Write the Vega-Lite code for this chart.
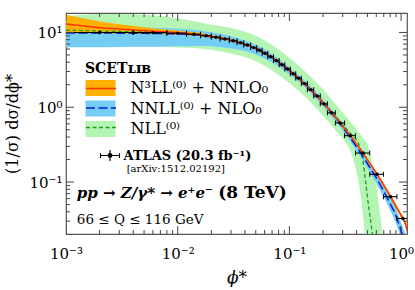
{
  "$schema": "https://vega.github.io/schema/vega-lite/v6.json",
  "width": 341,
  "height": 221,
  "autosize": {"type": "none"},
  "padding": {"left": 66, "top": 13, "right": 8, "bottom": 56},
  "background": "white",
  "config": {"view": {"stroke": "#555", "strokeWidth": 1.2}, "font": "DejaVu Serif"},
  "datasets": {
    "theory": [
      {"k":"a","x":0.001,"lo":10.2,"c":12.97,"hi":17.2},
      {"k":"a","x":0.0015,"lo":9.84,"c":12.11,"hi":15.2},
      {"k":"a","x":0.002,"lo":9.73,"c":11.56,"hi":14.06},
      {"k":"a","x":0.003,"lo":9.68,"c":11.12,"hi":12.91},
      {"k":"a","x":0.005,"lo":9.55,"c":10.59,"hi":11.75},
      {"k":"a","x":0.007,"lo":9.48,"c":10.28,"hi":11.14},
      {"k":"a","x":0.01,"lo":9.33,"c":9.95,"hi":10.62},
      {"k":"a","x":0.015,"lo":8.99,"c":9.46,"hi":9.95},
      {"k":"a","x":0.02,"lo":8.51,"c":8.87,"hi":9.25},
      {"k":"a","x":0.03,"lo":7.60,"c":7.87,"hi":8.15},
      {"k":"a","x":0.04,"lo":6.75,"c":6.95,"hi":7.16},
      {"k":"a","x":0.05,"lo":5.94,"c":6.11,"hi":6.28},
      {"k":"a","x":0.07,"lo":4.48,"c":4.60,"hi":4.73},
      {"k":"a","x":0.1,"lo":3.03,"c":3.11,"hi":3.20},
      {"k":"a","x":0.13,"lo":2.15,"c":2.21,"hi":2.27},
      {"k":"a","x":0.15,"lo":1.75,"c":1.80,"hi":1.85},
      {"k":"a","x":0.2,"lo":1.117,"c":1.148,"hi":1.180},
      {"k":"a","x":0.25,"lo":0.755,"c":0.776,"hi":0.798},
      {"k":"a","x":0.3,"lo":0.544,"c":0.560,"hi":0.577},
      {"k":"a","x":0.35,"lo":0.407,"c":0.420,"hi":0.434},
      {"k":"a","x":0.4,"lo":0.310,"c":0.321,"hi":0.332},
      {"k":"a","x":0.45,"lo":0.243,"c":0.252,"hi":0.261},
      {"k":"a","x":0.5,"lo":0.191,"c":0.199,"hi":0.207},
      {"k":"a","x":0.55,"lo":0.154,"c":0.161,"hi":0.168},
      {"k":"a","x":0.6,"lo":0.126,"c":0.132,"hi":0.138},
      {"k":"a","x":0.7,"lo":0.0861,"c":0.0906,"hi":0.0953},
      {"k":"a","x":0.8,"lo":0.0614,"c":0.0650,"hi":0.0689},
      {"k":"a","x":0.9,"lo":0.0445,"c":0.0475,"hi":0.0507},
      {"k":"a","x":1.0,"lo":0.0334,"c":0.0358,"hi":0.0384},
      {"k":"a","x":1.1,"lo":0.0248,"c":0.0269,"hi":0.0292},
      {"k":"a","x":1.13,"lo":0.0204,"c":0.0224,"hi":0.0246},

      {"k":"b","x":0.001,"lo":6.35,"c":9.84,"hi":12.97},
      {"k":"b","x":0.0015,"lo":6.35,"c":9.84,"hi":12.68},
      {"k":"b","x":0.002,"lo":6.35,"c":9.84,"hi":12.39},
      {"k":"b","x":0.003,"lo":6.40,"c":9.79,"hi":12.05},
      {"k":"b","x":0.005,"lo":6.43,"c":9.73,"hi":11.69},
      {"k":"b","x":0.007,"lo":6.46,"c":9.66,"hi":11.48},
      {"k":"b","x":0.01,"lo":6.53,"c":9.55,"hi":11.22},
      {"k":"b","x":0.015,"lo":6.61,"c":9.23,"hi":10.72},
      {"k":"b","x":0.02,"lo":6.52,"c":8.79,"hi":10.09},
      {"k":"b","x":0.03,"lo":6.08,"c":7.83,"hi":8.89},
      {"k":"b","x":0.04,"lo":5.64,"c":6.93,"hi":7.78},
      {"k":"b","x":0.05,"lo":5.08,"c":6.11,"hi":6.85},
      {"k":"b","x":0.07,"lo":3.96,"c":4.60,"hi":5.11},
      {"k":"b","x":0.1,"lo":2.74,"c":3.11,"hi":3.41},
      {"k":"b","x":0.13,"lo":1.995,"c":2.21,"hi":2.45},
      {"k":"b","x":0.15,"lo":1.622,"c":1.80,"hi":1.995},
      {"k":"b","x":0.2,"lo":1.03,"c":1.143,"hi":1.268},
      {"k":"b","x":0.25,"lo":0.692,"c":0.767,"hi":0.851},
      {"k":"b","x":0.3,"lo":0.490,"c":0.543,"hi":0.603},
      {"k":"b","x":0.35,"lo":0.351,"c":0.394,"hi":0.442},
      {"k":"b","x":0.4,"lo":0.263,"c":0.295,"hi":0.331},
      {"k":"b","x":0.45,"lo":0.1995,"c":0.226,"hi":0.257},
      {"k":"b","x":0.5,"lo":0.153,"c":0.176,"hi":0.202},
      {"k":"b","x":0.55,"lo":0.120,"c":0.140,"hi":0.162},
      {"k":"b","x":0.6,"lo":0.0966,"c":0.1135,"hi":0.133},
      {"k":"b","x":0.7,"lo":0.0624,"c":0.0750,"hi":0.0902},
      {"k":"b","x":0.8,"lo":0.0417,"c":0.0513,"hi":0.0631},
      {"k":"b","x":0.9,"lo":0.0282,"c":0.0355,"hi":0.0447},
      {"k":"b","x":1.0,"lo":0.0174,"c":0.0224,"hi":0.0288},
      {"k":"b","x":1.1,"lo":0.0112,"c":0.0148,"hi":0.0195},
      {"k":"b","x":1.13,"lo":0.0095,"c":0.0126,"hi":0.0166},

      {"k":"c","x":0.001,"lo":6.46,"c":10.7,"hi":16.6},
      {"k":"c","x":0.0015,"lo":6.46,"c":10.59,"hi":17.2},
      {"k":"c","x":0.002,"lo":6.46,"c":10.47,"hi":17.6},
      {"k":"c","x":0.003,"lo":6.46,"c":10.35,"hi":17.6},
      {"k":"c","x":0.005,"lo":6.46,"c":10.16,"hi":17.2},
      {"k":"c","x":0.007,"lo":6.46,"c":10.05,"hi":16.6},
      {"k":"c","x":0.01,"lo":6.31,"c":9.84,"hi":15.5},
      {"k":"c","x":0.015,"lo":6.17,"c":9.40,"hi":13.8},
      {"k":"c","x":0.02,"lo":5.89,"c":8.87,"hi":12.7},
      {"k":"c","x":0.03,"lo":5.25,"c":7.87,"hi":11.5},
      {"k":"c","x":0.04,"lo":4.68,"c":6.95,"hi":10.2},
      {"k":"c","x":0.05,"lo":4.12,"c":6.11,"hi":9.02},
      {"k":"c","x":0.07,"lo":3.11,"c":4.60,"hi":6.81},
      {"k":"c","x":0.1,"lo":2.10,"c":3.11,"hi":4.60},
      {"k":"c","x":0.13,"lo":1.50,"c":2.21,"hi":3.27},
      {"k":"c","x":0.15,"lo":1.22,"c":1.81,"hi":2.67},
      {"k":"c","x":0.2,"lo":0.776,"c":1.175,"hi":1.74},
      {"k":"c","x":0.25,"lo":0.525,"c":0.804,"hi":1.175},
      {"k":"c","x":0.3,"lo":0.380,"c":0.589,"hi":0.851},
      {"k":"c","x":0.35,"lo":0.263,"c":0.452,"hi":0.646},
      {"k":"c","x":0.38,"lo":0.182,"c":0.398,"hi":0.56},
      {"k":"c","x":0.4,"lo":0.135,"c":0.363,"hi":0.501},
      {"k":"c","x":0.42,"lo":0.0933,"c":0.316,"hi":0.46},
      {"k":"c","x":0.44,"lo":0.0575,"c":0.251,"hi":0.42},
      {"k":"c","x":0.46,"lo":0.0316,"c":0.174,"hi":0.385},
      {"k":"c","x":0.48,"lo":0.0158,"c":0.105,"hi":0.36},
      {"k":"c","x":0.5,"lo":0.0079,"c":0.063,"hi":0.32},
      {"k":"c","x":0.52,"lo":0.004,"c":0.0398,"hi":0.263},
      {"k":"c","x":0.55,"lo":0.002,"c":0.022,"hi":0.182},
      {"k":"c","x":0.58,"lo":0.001,"c":0.0112,"hi":0.120},
      {"k":"c","x":0.6,"lo":0.001,"c":0.005,"hi":0.0873},
      {"k":"c","x":0.65,"lo":0.001,"c":0.002,"hi":0.0372},
      {"k":"c","x":0.7,"lo":0.001,"c":0.001,"hi":0.0141},
      {"k":"c","x":0.75,"lo":0.001,"c":0.001,"hi":0.005}
    ],
    "atlas": [
      {"x":0.002,"lo":0.0005,"hi":0.004,"v":10.0},
      {"x":0.006,"lo":0.004,"hi":0.008,"v":9.95},
      {"x":0.010,"lo":0.008,"hi":0.012,"v":9.77},
      {"x":0.014,"lo":0.012,"hi":0.016,"v":9.44},
      {"x":0.018,"lo":0.016,"hi":0.020,"v":9.04},
      {"x":0.022,"lo":0.020,"hi":0.024,"v":8.65},
      {"x":0.0265,"lo":0.024,"hi":0.029,"v":8.20},
      {"x":0.0315,"lo":0.029,"hi":0.034,"v":7.74},
      {"x":0.0365,"lo":0.034,"hi":0.039,"v":7.28},
      {"x":0.042,"lo":0.039,"hi":0.045,"v":6.79},
      {"x":0.048,"lo":0.045,"hi":0.051,"v":6.27},
      {"x":0.054,"lo":0.051,"hi":0.057,"v":5.77},
      {"x":0.0605,"lo":0.057,"hi":0.064,"v":5.26},
      {"x":0.068,"lo":0.064,"hi":0.072,"v":4.73},
      {"x":0.0765,"lo":0.072,"hi":0.081,"v":4.21},
      {"x":0.086,"lo":0.081,"hi":0.091,"v":3.71},
      {"x":0.0965,"lo":0.091,"hi":0.102,"v":3.24},
      {"x":0.108,"lo":0.102,"hi":0.114,"v":2.81},
      {"x":0.121,"lo":0.114,"hi":0.128,"v":2.45},
      {"x":0.1365,"lo":0.128,"hi":0.145,"v":2.07},
      {"x":0.155,"lo":0.145,"hi":0.165,"v":1.72},
      {"x":0.177,"lo":0.165,"hi":0.189,"v":1.41},
      {"x":0.204,"lo":0.189,"hi":0.219,"v":1.11},
      {"x":0.2385,"lo":0.219,"hi":0.258,"v":0.843},
      {"x":0.285,"lo":0.258,"hi":0.312,"v":0.617},
      {"x":0.3515,"lo":0.312,"hi":0.391,"v":0.417},
      {"x":0.4575,"lo":0.391,"hi":0.524,"v":0.244},
      {"x":0.6095,"lo":0.524,"hi":0.695,"v":0.127},
      {"x":0.8065,"lo":0.695,"hi":0.918,"v":0.0637},
      {"x":1.0355,"lo":0.918,"hi":1.153,"v":0.0326}
    ],
    "xticks": [
      {"t":0.001,"kind":"major"},{"t":0.002,"kind":"minor"},{"t":0.003,"kind":"minor"},{"t":0.004,"kind":"minor"},{"t":0.005,"kind":"minor"},
      {"t":0.006,"kind":"minor"},{"t":0.007,"kind":"minor"},{"t":0.008,"kind":"minor"},{"t":0.009,"kind":"minor"},
      {"t":0.01,"kind":"major"},{"t":0.02,"kind":"minor"},{"t":0.03,"kind":"minor"},{"t":0.04,"kind":"minor"},{"t":0.05,"kind":"minor"},
      {"t":0.06,"kind":"minor"},{"t":0.07,"kind":"minor"},{"t":0.08,"kind":"minor"},{"t":0.09,"kind":"minor"},
      {"t":0.1,"kind":"major"},{"t":0.2,"kind":"minor"},{"t":0.3,"kind":"minor"},{"t":0.4,"kind":"minor"},{"t":0.5,"kind":"minor"},
      {"t":0.6,"kind":"minor"},{"t":0.7,"kind":"minor"},{"t":0.8,"kind":"minor"},{"t":0.9,"kind":"minor"},
      {"t":1,"kind":"major"}
    ],
    "yticks": [
      {"t":0.03,"kind":"minor"},{"t":0.04,"kind":"minor"},{"t":0.05,"kind":"minor"},{"t":0.06,"kind":"minor"},
      {"t":0.07,"kind":"minor"},{"t":0.08,"kind":"minor"},{"t":0.09,"kind":"minor"},
      {"t":0.1,"kind":"major"},{"t":0.2,"kind":"minor"},{"t":0.3,"kind":"minor"},{"t":0.4,"kind":"minor"},{"t":0.5,"kind":"minor"},
      {"t":0.6,"kind":"minor"},{"t":0.7,"kind":"minor"},{"t":0.8,"kind":"minor"},{"t":0.9,"kind":"minor"},
      {"t":1,"kind":"major"},{"t":2,"kind":"minor"},{"t":3,"kind":"minor"},{"t":4,"kind":"minor"},{"t":5,"kind":"minor"},
      {"t":6,"kind":"minor"},{"t":7,"kind":"minor"},{"t":8,"kind":"minor"},{"t":9,"kind":"minor"},
      {"t":10,"kind":"major"}
    ]
  },
  "resolve": {"axis": {"x": "independent", "y": "independent"}},
  "layer": [
    {
      "data": {"name": "theory"},
      "transform": [{"filter": "datum.k == 'c'"}],
      "mark": {"type": "area", "clip": true, "opacity": 1, "interpolate": "monotone"},
      "encoding": {
        "x": {"field": "x", "type": "quantitative",
          "scale": {"type": "log", "domain": [0.001, 1.13], "nice": false},
          "axis": {"orient": "bottom", "values": [0.001, 0.01, 0.1, 1], "ticks": false, "domain": false, "grid": false,
            "labelExpr": "datum.value < 0.005 ? '10⁻³' : datum.value < 0.05 ? '10⁻²' : datum.value < 0.5 ? '10⁻¹' : '10⁰'",
            "labelFont": "DejaVu Serif", "labelFontSize": 15, "labelColor": "black", "labelPadding": 12, "labelFlush": false, "labelOverlap": false,
            "title": "ϕ*", "titleFont": "DejaVu Serif", "titleFontStyle": "italic", "titleFontWeight": "normal", "titleFontSize": 17, "titleColor": "black", "titlePadding": 8}},
        "y": {"field": "lo", "type": "quantitative",
          "scale": {"type": "log", "domain": [0.0202, 18.2], "nice": false},
          "axis": {"orient": "left", "values": [0.1, 1, 10], "ticks": false, "domain": false, "grid": false,
            "labelExpr": "datum.value < 0.5 ? '10⁻¹' : datum.value < 5 ? '10⁰' : '10¹'",
            "labelFont": "DejaVu Serif", "labelFontSize": 15, "labelColor": "black", "labelPadding": 4, "labelFlush": false, "labelOverlap": false,
            "title": "(1/σ) dσ/dϕ*", "titleFont": "DejaVu Serif", "titleFontWeight": "normal", "titleFontSize": 16, "titleColor": "black", "titlePadding": 8}},
        "y2": {"field": "hi"},
        "fill": {"field": "k", "type": "nominal",
          "scale": {"range": ["#ffb000", "#73cdf5", "#b4f5b4"]},
          "legend": {"orient": "none", "legendX": 19, "legendY": 49, "title": "SCETʟɪʙ",
            "titleFont": "DejaVu Serif", "titleFontSize": 14, "titleFontWeight": "bold", "titleColor": "black", "titlePadding": 4,
            "symbolType": "M-2,-1.0667H2V1.0667H-2Z", "symbolSize": 225, "symbolStrokeWidth": 0, "symbolOffset": 7.5, "symbolOpacity": 1,
            "labelExpr": "datum.label == 'a' ? 'N³LL⁽⁰⁾ + NNLO₀' : datum.label == 'b' ? 'NNLL⁽⁰⁾ + NLO₀' : 'NLL⁽⁰⁾'",
            "labelFont": "DejaVu Serif", "labelFontSize": 16, "labelColor": "black", "labelOffset": 22, "rowPadding": 2.5, "labelLimit": 300}}
      }
    },
    {
      "data": {"name": "theory"},
      "transform": [{"filter": "datum.k == 'b'"}],
      "mark": {"type": "area", "clip": true, "opacity": 1, "interpolate": "monotone"},
      "encoding": {
        "x": {"field": "x", "type": "quantitative", "axis": null},
        "y": {"field": "lo", "type": "quantitative", "axis": null},
        "y2": {"field": "hi"},
        "fill": {"field": "k", "type": "nominal"}
      }
    },
    {
      "data": {"name": "theory"},
      "transform": [{"filter": "datum.k == 'a'"}],
      "mark": {"type": "area", "clip": true, "opacity": 1, "interpolate": "monotone"},
      "encoding": {
        "x": {"field": "x", "type": "quantitative", "axis": null},
        "y": {"field": "lo", "type": "quantitative", "axis": null},
        "y2": {"field": "hi"},
        "fill": {"field": "k", "type": "nominal"}
      }
    },
    {
      "data": {"name": "theory"},
      "transform": [{"filter": "datum.k == 'c'"}],
      "mark": {"type": "line", "clip": true, "strokeWidth": 1.3, "interpolate": "monotone"},
      "encoding": {
        "x": {"field": "x", "type": "quantitative", "axis": null},
        "y": {"field": "c", "type": "quantitative", "axis": null},
        "stroke": {"field": "k", "type": "nominal",
          "scale": {"domain": ["a", "b", "c"], "range": ["#ff3300", "#0a1acc", "#1fa01f"]},
          "legend": {"orient": "none", "legendX": 19, "legendY": 67, "title": null,
            "symbolType": "M-2,-0.6667M-2,0H2M2,0.6667", "symbolSize": 225, "symbolStrokeWidth": 1.5, "symbolOffset": 7.5,
            "labelExpr": "''", "labelFontSize": 16, "labelOffset": 22, "rowPadding": 2.5}},
        "strokeDash": {"field": "k", "type": "nominal",
          "scale": {"domain": ["a", "b", "c"], "range": [[1, 0], [9, 3.5], [4, 2.5]]},
          "legend": {"orient": "none", "legendX": 19, "legendY": 67, "title": null,
            "symbolType": "M-2,-0.6667M-2,0H2M2,0.6667", "symbolSize": 225, "symbolStrokeWidth": 1.5, "symbolOffset": 7.5,
            "labelExpr": "''", "labelFontSize": 16, "labelOffset": 22, "rowPadding": 2.5}}
      }
    },
    {
      "data": {"name": "theory"},
      "transform": [{"filter": "datum.k == 'b'"}],
      "mark": {"type": "line", "clip": true, "strokeWidth": 1.5, "interpolate": "monotone"},
      "encoding": {
        "x": {"field": "x", "type": "quantitative", "axis": null},
        "y": {"field": "c", "type": "quantitative", "axis": null},
        "stroke": {"field": "k", "type": "nominal"},
        "strokeDash": {"field": "k", "type": "nominal"}
      }
    },
    {
      "data": {"name": "theory"},
      "transform": [{"filter": "datum.k == 'a'"}],
      "mark": {"type": "line", "clip": true, "strokeWidth": 1.5, "interpolate": "monotone"},
      "encoding": {
        "x": {"field": "x", "type": "quantitative", "axis": null},
        "y": {"field": "c", "type": "quantitative", "axis": null},
        "stroke": {"field": "k", "type": "nominal"},
        "strokeDash": {"field": "k", "type": "nominal"}
      }
    },
    {
      "data": {"name": "atlas"},
      "mark": {"type": "rule", "clip": true, "strokeWidth": 1.1},
      "encoding": {
        "x": {"field": "lo", "type": "quantitative", "axis": null},
        "x2": {"field": "hi"},
        "y": {"field": "v", "type": "quantitative", "axis": null},
        "color": {"datum": "ATLAS (20.3 fb⁻¹)", "type": "nominal", "scale": {"range": ["black"]},
          "legend": {"orient": "none", "legendX": 33.5, "legendY": 132, "title": null,
            "labelFont": "DejaVu Serif", "labelFontSize": 13, "labelFontWeight": "bold", "labelColor": "black", "labelOffset": 3, "labelLimit": 300,
            "symbolSize": 361, "symbolType": "M-1,0H1M-1,-0.25V0.25M1,-0.25V0.25M0,-0.58V0.58M0.2,0A0.2,0.2,0,1,1,-0.2,0A0.2,0.2,0,1,1,0.2,0",
            "symbolFillColor": "black", "symbolStrokeWidth": 1.1, "symbolOpacity": 1,
            "encode": {"symbols": {"update": {"fill": {"value": "black"}, "stroke": {"value": "black"}}}}}}
      }
    },
    {
      "data": {"name": "atlas"},
      "transform": [{"fold": ["lo", "hi"], "as": ["side", "xe"]}],
      "mark": {"type": "tick", "clip": true, "orient": "vertical", "size": 5, "thickness": 1, "color": "black", "opacity": 1},
      "encoding": {
        "x": {"field": "xe", "type": "quantitative", "axis": null},
        "y": {"field": "v", "type": "quantitative", "axis": null}
      }
    },
    {
      "data": {"name": "atlas"},
      "mark": {"type": "point", "clip": true, "filled": true, "size": 12, "color": "black", "opacity": 1},
      "encoding": {
        "x": {"field": "x", "type": "quantitative", "axis": null},
        "y": {"field": "v", "type": "quantitative", "axis": null}
      }
    },
    {
      "data": {"name": "xticks"},
      "mark": {"type": "tick", "clip": true, "orient": "vertical", "thickness": 1, "color": "#444", "opacity": 1},
      "encoding": {
        "x": {"field": "t", "type": "quantitative", "axis": null},
        "y": {"datum": 0.0202, "type": "quantitative", "axis": null},
        "size": {"field": "kind", "type": "ordinal", "scale": {"domain": ["major", "minor"], "range": [16, 8]}, "legend": null}
      }
    },
    {
      "data": {"name": "xticks"},
      "mark": {"type": "tick", "clip": true, "orient": "vertical", "thickness": 1, "color": "#444", "opacity": 1},
      "encoding": {
        "x": {"field": "t", "type": "quantitative", "axis": null},
        "y": {"datum": 18.2, "type": "quantitative", "axis": null},
        "size": {"field": "kind", "type": "ordinal", "legend": null}
      }
    },
    {
      "data": {"name": "yticks"},
      "mark": {"type": "tick", "clip": true, "orient": "horizontal", "thickness": 1, "color": "#444", "opacity": 1},
      "encoding": {
        "y": {"field": "t", "type": "quantitative", "axis": null},
        "x": {"datum": 0.001, "type": "quantitative", "axis": null},
        "size": {"field": "kind", "type": "ordinal", "legend": null}
      }
    },
    {
      "data": {"name": "yticks"},
      "mark": {"type": "tick", "clip": true, "orient": "horizontal", "thickness": 1, "color": "#444", "opacity": 1},
      "encoding": {
        "y": {"field": "t", "type": "quantitative", "axis": null},
        "x": {"datum": 1.13, "type": "quantitative", "axis": null},
        "size": {"field": "kind", "type": "ordinal", "legend": null}
      }
    },
    {
      "data": {"values": [{}]},
      "mark": {"type": "text", "align": "left", "baseline": "middle", "font": "DejaVu Serif", "fontSize": 10, "color": "black"},
      "encoding": {
        "x": {"datum": 0.00349, "type": "quantitative", "axis": null},
        "y": {"datum": 0.148, "type": "quantitative", "axis": null},
        "text": {"value": "[arXiv:1512.02192]"}
      }
    },
    {
      "data": {"values": [{}]},
      "mark": {"type": "text", "align": "left", "baseline": "middle", "font": "DejaVu Serif", "fontSize": 15, "fontWeight": "bold", "fontStyle": "italic", "color": "black"},
      "encoding": {
        "x": {"datum": 0.00125, "type": "quantitative", "axis": null},
        "y": {"datum": 0.071, "type": "quantitative", "axis": null},
        "text": {"value": "pp → Z/γ* → e⁺e⁻"}
      }
    },
    {
      "data": {"values": [{}]},
      "mark": {"type": "text", "align": "left", "baseline": "middle", "font": "DejaVu Serif", "fontSize": 17, "fontWeight": "bold", "color": "black"},
      "encoding": {
        "x": {"datum": 0.0231, "type": "quantitative", "axis": null},
        "y": {"datum": 0.071, "type": "quantitative", "axis": null},
        "text": {"value": "(8 TeV)"}
      }
    },
    {
      "data": {"values": [{}]},
      "mark": {"type": "text", "align": "left", "baseline": "middle", "font": "DejaVu Serif", "fontSize": 13.5, "color": "black"},
      "encoding": {
        "x": {"datum": 0.00125, "type": "quantitative", "axis": null},
        "y": {"datum": 0.0312, "type": "quantitative", "axis": null},
        "text": {"value": "66 ≤ Q ≤ 116 GeV"}
      }
    }
  ]
}
